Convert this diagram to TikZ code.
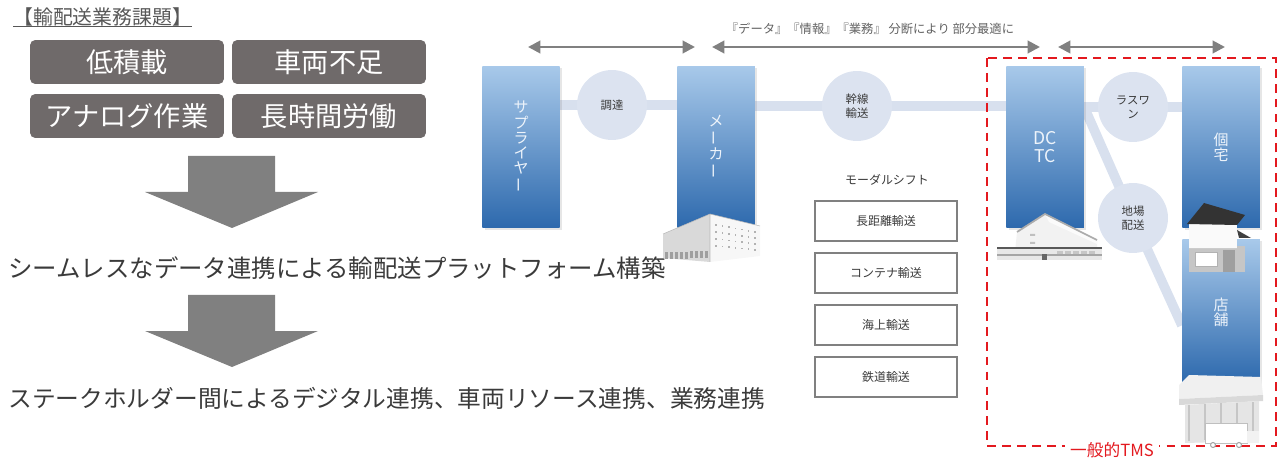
\documentclass[tikz,border=0pt]{standalone}
\usepackage{fontspec}
\setmainfont{Noto Sans CJK JP}
\usetikzlibrary{arrows.meta,calc,backgrounds,shadows}

\definecolor{issuegray}{HTML}{6F6A6A}
\definecolor{arrowgray}{HTML}{808080}
\definecolor{linkblue}{HTML}{D8E0EE}
\definecolor{stageblue}{HTML}{DCE3F0}
\definecolor{coltop}{HTML}{A8C9EA}
\definecolor{colbot}{HTML}{2D69AD}
\definecolor{tmsred}{HTML}{E3191F}
\definecolor{textgray}{HTML}{3A3A3A}

\newcommand\chouon{\rotatebox[origin=c]{90}{ー}}

\begin{document}
\begin{tikzpicture}[x=0.02cm, y=-0.02cm,
  issue/.style={fill=issuegray, rounded corners=3pt, minimum width=3.88cm, minimum height=0.88cm,
    inner sep=0, text=white, font=\fontsize{15.5}{16}\selectfont},
  column/.style={top color=coltop, bottom color=colbot, minimum width=1.55cm, inner sep=0,
    text=white!80!coltop, align=center, font=\fontsize{8.5}{8.6}\selectfont,
    drop shadow={opacity=0.2, shadow xshift=1.5pt, shadow yshift=-1pt}},
  stage/.style={circle, fill=stageblue, minimum size=1.4cm, inner sep=0, align=center,
    text=textgray, font=\fontsize{6.5}{8}\selectfont},
  link/.style={linkblue, line width=5.5pt},
  mode/.style={draw=arrowgray, line width=1pt, minimum width=2.84cm, minimum height=0.8cm,
    text=textgray, font=\fontsize{6.8}{8}\selectfont},
  span/.style={arrowgray, line width=1.6pt, {Triangle[length=7pt,width=7pt]}-{Triangle[length=7pt,width=7pt]}},
]
\useasboundingbox (0,0) rectangle (1285,459);

% issues
\node[anchor=west, inner sep=0, text=textgray!85, font=\fontsize{11.3}{11.3}\selectfont] (title) at (13,17) {【輸配送業務課題】};
\draw[textgray!85, line width=0.6pt] (title.south west) -- (title.south east);
\node[issue] (lowload) at (127,62) {低積載};
\node[issue] (shortage) at (329,62) {車両不足};
\node[issue] (analog) at (127,116) {アナログ作業};
\node[issue] (longhours) at (329,116) {長時間労働};

\foreach \t in {156,295}
  \fill[arrowgray] (188,\t) -- (275,\t) -- (275,\t+36) -- (318,\t+36) -- (232,\t+72)
    -- (145,\t+36) -- (188,\t+36) -- cycle;

\node[anchor=west, inner sep=0, text=textgray, font=\fontsize{13.9}{14}\selectfont] (platform) at (8,268)
  {シームレスなデータ連携による輸配送プラットフォーム構築};
\node[anchor=west, inner sep=0, text=textgray, font=\fontsize{13.5}{14}\selectfont] (linkage) at (8,398)
  {ステークホルダー間によるデジタル連携、車両リソース連携、業務連携};

% supply chain
\node[text=textgray!80, font=\fontsize{7}{7}\selectfont] (silo) at (870,29)
  {『データ』『情報』『業務』 分断により 部分最適に};
\coordinate (s1) at (528,47); \coordinate (e1) at (695,47);
\coordinate (s2) at (712,47); \coordinate (e2) at (1040,47);
\coordinate (s3) at (1058,47); \coordinate (e3) at (1225,47);
\foreach \i in {1,2,3}
  \draw[span] (s\i) -- (e\i);

\node[column, minimum height=3.24cm] (supplier) at (521,147) {サ\\プ\\ラ\\イ\\ヤ\\\chouon};
\node[column, minimum height=3.24cm] (maker) at (716,147) {メ\\\chouon\\カ\\\chouon};
\node[column, minimum height=3.24cm, font=\fontsize{10}{10}\selectfont] (dctc) at (1045,147) {DC\\TC};
\node[column, minimum height=3.24cm] (home) at (1221,147) {個\\宅};
\node[column, minimum height=2.86cm] (store) at (1221,311) {\\店\\舗};

\node[stage] (procure) at (612,105) {調達};
\node[stage] (trunk) at (857,106) {幹線\\輸送};
\node[stage] (lastmile) at (1133,107) {ラスワ\\ン};
\node[stage] (local) at (1133,218) {地場\\配送};

\begin{scope}[on background layer]
  \draw[link] (supplier.east |- procure) -- (maker.west |- procure);
  \draw[link] (maker.east |- trunk) -- (dctc.west |- trunk);
  \draw[link] (dctc.east |- lastmile) -- (home.west |- lastmile);
  \draw[link] (lastmile -| dctc.east) -- (local.center) -- ($(store.north west)!0.6!(store.south west)$);
\end{scope}

\node[text=textgray, font=\fontsize{6.8}{8}\selectfont] (modal) at (887,180) {モーダルシフト};
\foreach \t [count=\i] in {長距離輸送,コンテナ輸送,海上輸送,鉄道輸送}
  \node[mode] (mode\i) at (886,{221+52*(\i-1)}) {\t};

\draw[tmsred, line width=1.3pt, dash pattern=on 5pt off 3.5pt] (987,58) rectangle (1276,446);
\node[fill=white, inner sep=3pt, text=tmsred, font=\fontsize{9.5}{10}\selectfont] (tms) at (1112,450) {一般的TMS};

% factory
\begin{scope}[shift={(663,212)}]
  \fill[gray!30] (0,22) -- (47,2) -- (47,50) -- (0,46) -- cycle;
  \fill[gray!6] (47,2) -- (97,14) -- (97,44) -- (47,50) -- cycle;
  \draw[gray!55, line width=0.3pt] (0,22) -- (47,2) -- (97,14) (47,2) -- (47,50);
  \foreach \k in {0,...,8}
    \fill[gray!75] ({2+5*\k},{40-0.1*\k}) rectangle ++(3,7);
  \foreach \r in {0,...,3}
    \foreach \c in {0,...,6}
      \fill[gray!60] ({52+6.5*\c},{12+7*\r+1.2*\c-0.5*\r*\c/3}) rectangle ++(1.6,1.6);
\end{scope}

% distribution center
\begin{scope}[shift={(997,210)}]
  \fill[gray!10] (20,22) -- (48,4) -- (100,30) -- (100,42) -- (18,42) -- cycle;
  \fill[gray!3] (48,4) -- (100,30) -- (100,34) -- (52,12) -- cycle;
  \draw[gray!65, line width=1pt] (20,22) -- (48,4) -- (100,30);
  \fill[gray!50] (33,24) rectangle ++(5,2) (33,32) rectangle ++(5,2);
  \fill[gray!18] (0,38) rectangle (105,50);
  \draw[gray!70!black, line width=0.9pt] (0,38) -- (105,38);
  \fill[gray!70] (0,44) rectangle (105,46);
  \fill[gray!80!black] (45,44) rectangle ++(5,6);
  \foreach \k in {0,...,4}
    \fill[gray!45] ({60+8*\k},41) rectangle ++(6,3);
\end{scope}

% house
\begin{scope}[shift={(1187,202)}]
  \fill[gray!45] (2,44) rectangle (58,70);
  \fill[white] (8,50) rectangle (30,64);
  \draw[gray!60, line width=0.3pt] (8,50) rectangle (30,64);
  \fill[gray!75] (36,48) rectangle (48,70);
  \fill[gray!4] (2,22) -- (50,22) -- (50,46) -- (2,46) -- cycle;
  \draw[gray!40, line width=0.3pt] (2,46) -- (50,46);
  \fill[black!80] (0,22) -- (17,1) -- (58,13) -- (50,23) -- cycle;
  \fill[black!75] (50,28) -- (64,36) -- (52,36) -- cycle;
\end{scope}

% store
\begin{scope}[shift={(1177,375)}]
  \fill[gray!12] (2,10) -- (12,0) -- (84,2) -- (86,20) -- (2,24) -- cycle;
  \fill[gray!30] (2,24) -- (86,20) -- (86,26) -- (2,30) -- cycle;
  \fill[gray!20] (8,30) -- (82,26) -- (82,66) -- (8,68) -- cycle;
  \foreach \k in {0,...,4}
    \draw[gray!45, line width=0.6pt] ({12+16*\k},{30-0.2*\k*4}) -- ++(0,36);
  \fill[white] (28,48) rectangle (70,68);
  \draw[gray!50, line width=0.3pt] (28,48) rectangle (70,68);
  \fill[gray!10] (70,56) rectangle (82,68);
  \draw[gray!70, line width=0.6pt, fill=white] (36,70) circle (2.5) (62,70) circle (2.5);
\end{scope}
\end{tikzpicture}
\end{document}
